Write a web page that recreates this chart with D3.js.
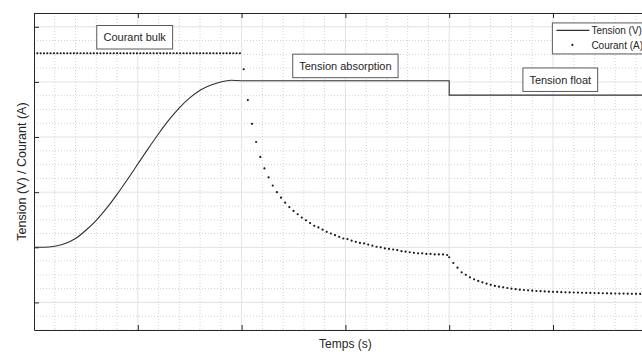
<!DOCTYPE html>
<html>
<head>
<meta charset="utf-8">
<script src="https://cdn.jsdelivr.net/npm/d3@7"></script>
<style>
  html, body { margin: 0; padding: 0; background: #ffffff; }
  svg { display: block; }
  text { font-family: "Liberation Sans", Arial, Helvetica, sans-serif; }
</style>
</head>
<body>
<svg id="chart" width="642" height="352"></svg>
<script>
// ---------------- data ----------------
// Voltage (V) during the bulk rise
const voltRiseTimes  = [0, 0.1, 0.2, 0.3, 0.4, 0.5, 0.6, 0.7, 0.8, 0.9, 1.0, 1.1, 1.2, 1.3, 1.4, 1.5, 1.6, 1.7, 1.8, 1.9, 2.0];
const voltRiseValues = [1.0, 1.0, 1.02, 1.07, 1.16, 1.31, 1.49, 1.71, 1.96, 2.23, 2.51, 2.79, 3.06, 3.31, 3.53, 3.71, 3.85, 3.94, 4.00, 4.03, 4.02];
// Voltage: absorption then float plateau
const voltStepTimes  = [2.0, 4.0, 4.0, 6.0];
const voltStepValues = [4.02, 4.02, 3.76, 3.76];

// Current (A) samples
const bulkStart = 0, bulkStep = 0.032;
const bulkCurrent = [4.52, 4.52, 4.52, 4.52, 4.52, 4.52, 4.52, 4.52, 4.52, 4.52,
                     4.52, 4.52, 4.52, 4.52, 4.52, 4.52, 4.52, 4.52, 4.52, 4.52,
                     4.52, 4.52, 4.52, 4.52, 4.52, 4.52, 4.52, 4.52, 4.52, 4.52,
                     4.52, 4.52, 4.52, 4.52, 4.52, 4.52, 4.52, 4.52, 4.52, 4.52,
                     4.52, 4.52, 4.52, 4.52, 4.52, 4.52, 4.52, 4.52, 4.52, 4.52,
                     4.52, 4.52, 4.52, 4.52, 4.52, 4.52, 4.52, 4.52, 4.52, 4.52,
                     4.52, 4.52, 4.52];
const absorbStart = 2.02, absorbStep = 0.04;
const absorbCurrent = [4.23, 3.67, 3.24, 2.91, 2.64, 2.43, 2.27, 2.12, 2.00, 1.90,
                       1.81, 1.73, 1.66, 1.60, 1.54, 1.49, 1.44, 1.39, 1.36, 1.32,
                       1.28, 1.25, 1.22, 1.19, 1.16, 1.15, 1.12, 1.10, 1.08, 1.07,
                       1.05, 1.03, 1.01, 1.00, 0.98, 0.97, 0.96, 0.95, 0.93, 0.92,
                       0.91, 0.90, 0.89, 0.89, 0.88, 0.88, 0.87, 0.87, 0.87, 0.86];
const floatStart = 4.0, floatStep = 0.04;
const floatCurrent = [0.82, 0.715, 0.63, 0.546, 0.50, 0.456, 0.42, 0.39, 0.365, 0.34,
                      0.32, 0.30, 0.285, 0.274, 0.262, 0.25, 0.24, 0.231, 0.226, 0.22,
                      0.213, 0.207, 0.205, 0.20, 0.196, 0.193, 0.19, 0.187, 0.184, 0.182,
                      0.18, 0.178, 0.176, 0.174, 0.172, 0.17, 0.168, 0.167, 0.165, 0.164,
                      0.162, 0.161, 0.16, 0.158, 0.157, 0.156, 0.155, 0.154];

// Annotations (label, centre time, centre value)
const annotLabels = ["Courant bulk", "Tension absorption", "Tension float"];
const annotTimes  = [0.97, 3.0, 5.07];
const annotValues = [4.81, 4.29, 4.04];

// Axis ticks (no tick labels shown)
const xMajorTicks = [0, 1, 2, 3, 4, 5, 6];
const yMajorTicks = [0, 1, 2, 3, 4, 5];
const xMinorStep = 0.2, yMinorStep = 0.25;

const legendLabels = ["Tension (V)", "Courant (A)"];
const xLabel = "Temps (s)";
const yLabel = "Tension (V) / Courant (A)";

// ---------------- drawing ----------------
const svg = d3.select("#chart");
const x = d3.scaleLinear().domain([0, 6]).range([34, 656.8]);
const y = d3.scaleLinear().domain([-0.5, 5.25]).range([330, 13]);
const [x0, x1] = x.range();
const [yb, yt] = y.range();

svg.append("defs").append("clipPath").attr("id", "plotclip")
  .append("rect").attr("x", x0).attr("y", yt).attr("width", x1 - x0).attr("height", yb - yt);

const grid = svg.append("g").attr("clip-path", "url(#plotclip)");
const isMajor = (v, majors) => majors.some(m => Math.abs(m - v) < 1e-6);

// minor grid
const xMinor = d3.range(x.domain()[0], x.domain()[1] + 1e-6, xMinorStep).filter(v => !isMajor(v, xMajorTicks));
const yMinor = d3.range(-0.5, 5.25 + 1e-6, yMinorStep).filter(v => !isMajor(v, yMajorTicks));
grid.selectAll(".xminor").data(xMinor).join("line")
  .attr("x1", d => x(d)).attr("x2", d => x(d)).attr("y1", yt).attr("y2", yb)
  .attr("stroke", "#d2d2d2").attr("stroke-width", 1).attr("stroke-dasharray", "1,2");
grid.selectAll(".yminor").data(yMinor).join("line")
  .attr("y1", d => y(d)).attr("y2", d => y(d)).attr("x1", x0).attr("x2", x1)
  .attr("stroke", "#d2d2d2").attr("stroke-width", 1).attr("stroke-dasharray", "1,2");
// major grid
grid.selectAll(".xmajor").data(xMajorTicks).join("line")
  .attr("x1", d => x(d)).attr("x2", d => x(d)).attr("y1", yt).attr("y2", yb)
  .attr("stroke", "#e2e2e2").attr("stroke-width", 1);
grid.selectAll(".ymajor").data(yMajorTicks).join("line")
  .attr("y1", d => y(d)).attr("y2", d => y(d)).attr("x1", x0).attr("x2", x1)
  .attr("stroke", "#e2e2e2").attr("stroke-width", 1);

// axes
const axColor = "#262626";
const styleAxis = g => {
  g.selectAll("path.domain").attr("stroke", axColor).attr("stroke-width", 1);
  g.selectAll(".tick line").attr("stroke", axColor).attr("stroke-width", 1);
  g.selectAll(".tick text").remove();
};
svg.append("g").attr("transform", `translate(0,${yb})`)
  .call(d3.axisBottom(x).tickValues(xMajorTicks).tickSizeInner(-5).tickSizeOuter(0).tickFormat(""))
  .call(styleAxis);
svg.append("g").attr("transform", `translate(0,${yt})`)
  .call(d3.axisTop(x).tickValues(xMajorTicks).tickSizeInner(-5).tickSizeOuter(0).tickFormat(""))
  .call(styleAxis);
svg.append("g").attr("transform", `translate(${x0},0)`)
  .call(d3.axisLeft(y).tickValues(yMajorTicks).tickSizeInner(-5).tickSizeOuter(0).tickFormat(""))
  .call(styleAxis);

// data layer
const plot = svg.append("g").attr("clip-path", "url(#plotclip)");
const riseData = voltRiseTimes.map((t, i) => [t, voltRiseValues[i]]);
const stepData = voltStepTimes.map((t, i) => [t, voltStepValues[i]]);
plot.append("path").datum(riseData)
  .attr("d", d3.line().x(d => x(d[0])).y(d => y(d[1])).curve(d3.curveMonotoneX))
  .attr("fill", "none").attr("stroke", "#303030").attr("stroke-width", 1.1);
plot.append("path").datum(stepData)
  .attr("d", d3.line().x(d => x(d[0])).y(d => y(d[1])))
  .attr("fill", "none").attr("stroke", "#303030").attr("stroke-width", 1.1);

const currentData = [
  ...bulkCurrent.map((v, i) => [bulkStart + i * bulkStep, v]),
  ...absorbCurrent.map((v, i) => [absorbStart + i * absorbStep, v]),
  ...floatCurrent.map((v, i) => [floatStart + i * floatStep, v])
];
plot.selectAll("circle.cur").data(currentData).join("circle")
  .attr("class", "cur")
  .attr("cx", d => x(d[0])).attr("cy", d => y(d[1])).attr("r", 1.1)
  .attr("fill", "#1a1a1a");

// annotations
annotLabels.forEach((lab, i) => {
  const g = svg.append("g");
  const cx = x(annotTimes[i]), cy = y(annotValues[i]);
  const txt = g.append("text").attr("x", cx).attr("y", cy + 4)
    .attr("text-anchor", "middle").attr("font-size", 11).attr("fill", "#262626").text(lab);
  const bb = txt.node().getBBox();
  const w = bb.width + 13, h = 23.5;
  g.insert("rect", "text").attr("x", cx - w / 2).attr("y", cy - h / 2)
    .attr("width", w).attr("height", h)
    .attr("fill", "#ffffff").attr("stroke", "#5a5a5a").attr("stroke-width", 1);
});

// legend
const lg = svg.append("g");
const lgLeft = x(4.994), lgTop = y(5.07);
lg.append("rect").attr("x", lgLeft).attr("y", lgTop).attr("width", 120).attr("height", 31)
  .attr("fill", "#ffffff").attr("stroke", "#5a5a5a").attr("stroke-width", 1);
lg.append("line").attr("x1", lgLeft + 4).attr("x2", lgLeft + 37)
  .attr("y1", lgTop + 7.5).attr("y2", lgTop + 7.5)
  .attr("stroke", "#303030").attr("stroke-width", 1.1);
lg.append("circle").attr("cx", lgLeft + 20).attr("cy", lgTop + 22).attr("r", 1.1).attr("fill", "#1a1a1a");
legendLabels.forEach((lab, i) => {
  lg.append("text").attr("x", lgLeft + 39).attr("y", lgTop + 11.5 + i * 14.5)
    .attr("font-size", 10).attr("fill", "#262626").text(lab);
});

// axis labels
svg.append("text").attr("x", (x0 + x1) / 2).attr("y", 348)
  .attr("text-anchor", "middle").attr("font-size", 12).attr("fill", "#262626").text(xLabel);
svg.append("text").attr("transform", `translate(26,${(yt + yb) / 2}) rotate(-90)`)
  .attr("text-anchor", "middle").attr("font-size", 12.5).attr("fill", "#262626").text(yLabel);
</script>
</body>
</html>
